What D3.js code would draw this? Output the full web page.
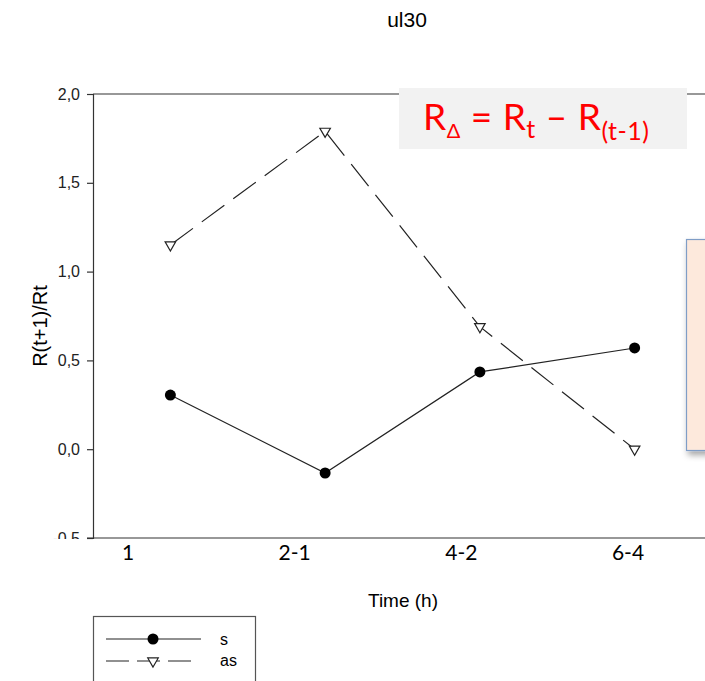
<!DOCTYPE html>
<html>
<head>
<meta charset="utf-8">
<script src="https://cdn.jsdelivr.net/npm/d3@7"></script>
<style>
  body { margin: 0; background: #fff; }
  svg { display: block; }
</style>
</head>
<body>
<svg id="chart" width="705" height="681"></svg>
<script>
// chart data
const categories = ["1", "2-1", "4-2", "6-4"];
const sValues = [0.305, -0.134, 0.435, 0.57];
const asValues = [1.15, 1.79, 0.69, 0.0];
const yTicks = [-0.5, 0, 0.5, 1.0, 1.5, 2.0];
const seriesNames = ["s", "as"];

const svg = d3.select("#chart");
const width = +svg.attr("width");

const plotLeft = 93, plotTop = 94, plotBottom = 538;

// points sit at 1..4 on a 0.5..4.5 axis that runs past the right edge
const x = d3.scaleLinear().domain([0.5, 4.5]).range([plotLeft, 712]);
const y = d3.scaleLinear().domain([-0.5, 2.0]).range([plotBottom, plotTop]);
// category labels are an overlay, placed on their own scale
const xLabel = d3.scalePoint().domain(categories).range([128, 628]);

const fmt = d => d3.format(".1f")(d).replace(".", ",").replace("−", "-");

// title
svg.append("text")
    .attr("x", 407).attr("y", 27)
    .attr("text-anchor", "middle")
    .style("font", "21px 'Liberation Sans', Arial, sans-serif")
    .text("ul30");

// frame: left axis, top and bottom lines
const yAxis = d3.axisLeft(y).tickValues(yTicks).tickSize(6).tickPadding(7).tickFormat(fmt);
const gy = svg.append("g").attr("transform", `translate(${plotLeft},0)`).call(yAxis);
gy.select(".domain").attr("stroke", "#333").attr("stroke-width", 1.2);
gy.selectAll(".tick line").attr("stroke", "#333").attr("stroke-width", 1.2);
gy.selectAll(".tick text")
    .style("font", "16px 'Liberation Sans', Arial, sans-serif")
    .attr("fill", "#222");

svg.append("line")
    .attr("x1", plotLeft).attr("x2", width)
    .attr("y1", plotTop).attr("y2", plotTop)
    .attr("stroke", "#333").attr("stroke-width", 1.2);
svg.append("line")
    .attr("x1", plotLeft - 6).attr("x2", width)
    .attr("y1", plotBottom).attr("y2", plotBottom)
    .attr("stroke", "#333").attr("stroke-width", 1.2);

// white overlay hides the lower half of the -0,5 label
svg.append("rect")
    .attr("x", 0).attr("y", plotBottom + 1)
    .attr("width", plotLeft - 7).attr("height", 20)
    .attr("fill", "#fff");

// y axis title
svg.append("text")
    .attr("transform", `translate(47,${(plotTop + plotBottom) / 2 + 10}) rotate(-90)`)
    .attr("text-anchor", "middle")
    .style("font", "20px 'Liberation Sans', Arial, sans-serif")
    .text("R(t+1)/Rt");

// x axis title
svg.append("text")
    .attr("x", 403).attr("y", 607)
    .attr("text-anchor", "middle")
    .style("font", "19px 'Liberation Sans', Arial, sans-serif")
    .text("Time (h)");

// category labels
svg.append("g").selectAll("text")
    .data(categories)
    .enter().append("text")
    .attr("x", d => xLabel(d))
    .attr("y", 560)
    .attr("text-anchor", "middle")
    .style("font", "21px Lato, 'Open Sans', sans-serif")
    .text(d => d);

// lines
const line = d3.line().x((d, i) => x(i + 1)).y(d => y(d));

svg.append("path")
    .datum(asValues)
    .attr("d", line)
    .attr("fill", "none")
    .attr("stroke", "#222")
    .attr("stroke-width", 1.2)
    .attr("stroke-dasharray", "28,11");

svg.append("path")
    .datum(sValues)
    .attr("d", line)
    .attr("fill", "none")
    .attr("stroke", "#222")
    .attr("stroke-width", 1.2);

const tri = d3.symbol().type(d3.symbolTriangle).size(48);

svg.append("g").selectAll("path")
    .data(asValues)
    .enter().append("path")
    .attr("d", tri)
    .attr("transform", (d, i) => `translate(${x(i + 1)},${y(d)}) rotate(180)`)
    .attr("fill", "#fff")
    .attr("stroke", "#222")
    .attr("stroke-width", 1.2);

svg.append("g").selectAll("circle")
    .data(sValues)
    .enter().append("circle")
    .attr("cx", (d, i) => x(i + 1))
    .attr("cy", d => y(d))
    .attr("r", 5.5)
    .attr("fill", "#000");

// legend
const legend = svg.append("g");
legend.append("rect")
    .attr("x", 93.5).attr("y", 616.5)
    .attr("width", 162).attr("height", 80)
    .attr("fill", "#fff").attr("stroke", "#555").attr("stroke-width", 1.2);

legend.append("line")
    .attr("x1", 106).attr("x2", 201).attr("y1", 639).attr("y2", 639)
    .attr("stroke", "#222").attr("stroke-width", 1.2);
legend.append("circle").attr("cx", 153).attr("cy", 639).attr("r", 5.5).attr("fill", "#000");

legend.append("line")
    .attr("x1", 106).attr("x2", 192).attr("y1", 661).attr("y2", 661)
    .attr("stroke", "#222").attr("stroke-width", 1.2)
    .attr("stroke-dasharray", "23,8");
legend.append("path")
    .attr("d", tri)
    .attr("transform", "translate(153,661) rotate(180)")
    .attr("fill", "#fff").attr("stroke", "#222").attr("stroke-width", 1.2);

legend.selectAll("text.lab")
    .data(seriesNames)
    .enter().append("text")
    .attr("class", "lab")
    .attr("x", 220)
    .attr("y", (d, i) => 645 + i * 21)
    .style("font", "16px 'Liberation Sans', Arial, sans-serif")
    .text(d => d);

// formula box
svg.append("rect")
    .attr("x", 399).attr("y", 88)
    .attr("width", 288).attr("height", 61)
    .attr("fill", "#f2f2f2");

const formula = svg.append("text")
    .attr("x", 423).attr("y", 130)
    .attr("fill", "#ff0000")
    .style("font", "37px Lato, 'Open Sans', sans-serif")
    .style("letter-spacing", "0.5px");
formula.append("tspan").text("R");
formula.append("tspan").attr("dy", 8).style("font-size", "20px").text("Δ");
formula.append("tspan").attr("dy", -8).text(" = R");
formula.append("tspan").attr("dy", 8).style("font-size", "25px").text("t");
formula.append("tspan").attr("dy", -8).text(" – R");
formula.append("tspan").attr("dy", 10).style("font-size", "25px").text("(t-1)");

// orange note box with shadow
const defs = svg.append("defs");
const f = defs.append("filter").attr("id", "shadow")
    .attr("x", "-20%").attr("y", "-20%").attr("width", "140%").attr("height", "140%");
f.append("feDropShadow").attr("dx", 2).attr("dy", 4).attr("stdDeviation", 3)
    .attr("flood-color", "#000").attr("flood-opacity", 0.35);

svg.append("rect")
    .attr("x", 686.5).attr("y", 239.5)
    .attr("width", 60).attr("height", 211)
    .attr("fill", "#fde9dc")
    .attr("stroke", "#7f9dc6").attr("stroke-width", 1.2)
    .attr("filter", "url(#shadow)");
</script>
</body>
</html>
